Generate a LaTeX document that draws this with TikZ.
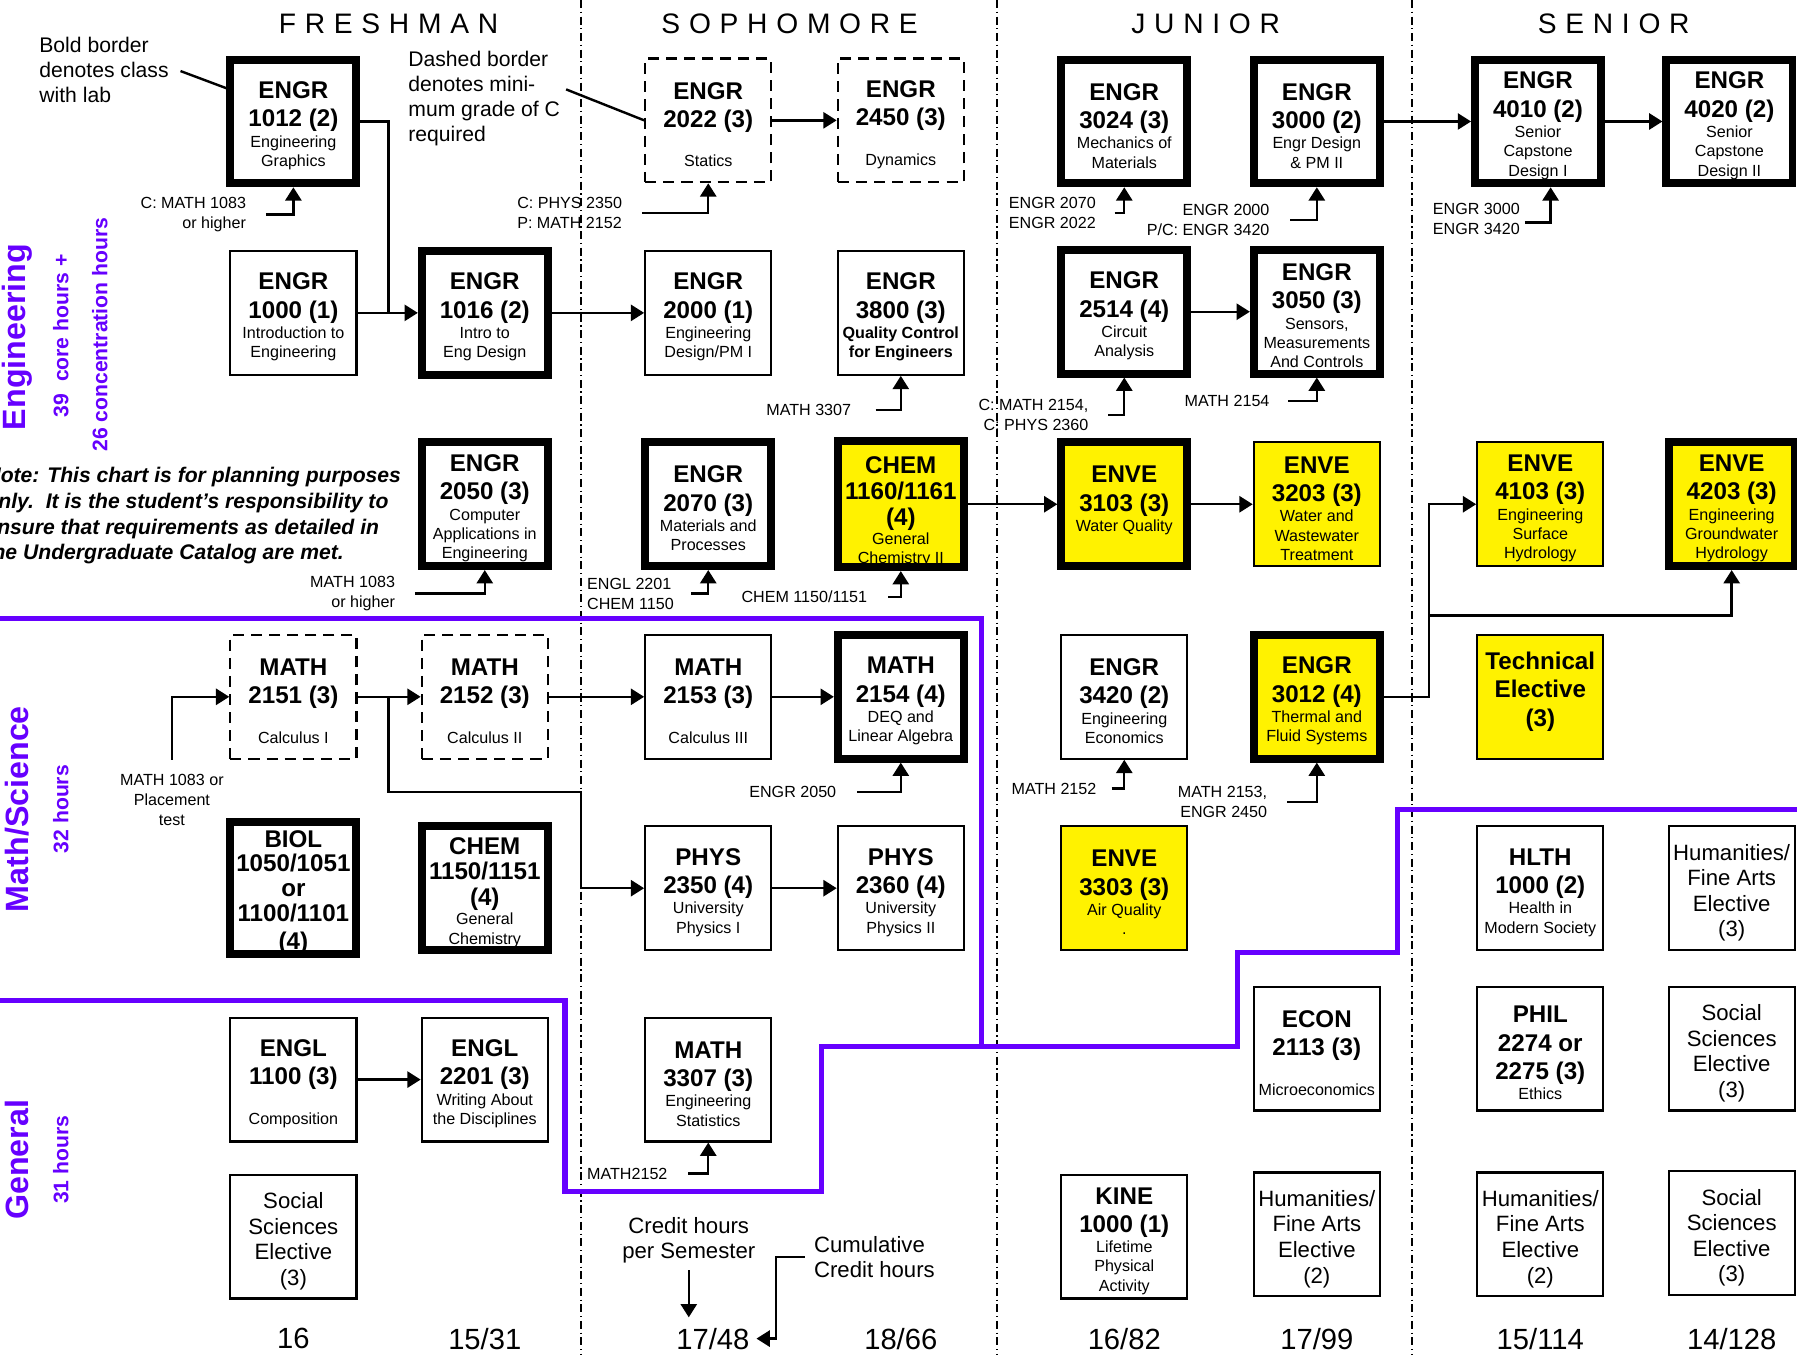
\documentclass[tikz,border=0pt]{standalone}
\usepackage{fontspec}
\setmainfont{Liberation Sans}
\usepackage{tikz}
\usetikzlibrary{arrows.meta,calc}
\definecolor{grp}{RGB}{102,0,255}
\hyphenpenalty=10000
\exhyphenpenalty=10000
\newcommand\crsfont{\fontsize{12}{14}\selectfont\bfseries}
\newcommand\subf{\fontsize{8}{9.6}\selectfont\mdseries}
\newcommand\crs[3]{#1\\#2\par\vspace{0.5pt}{\subf #3\par}}
\newcommand\crsc[2]{{\fontsize{12}{12.8}\selectfont #1\par}{\subf #2\par}}

\begin{document}
\begin{tikzpicture}[x=0.02cm, y=-0.02cm,
  >={Triangle[length=6.6pt,width=8pt]},
  crs/.style={rectangle, draw=black, line width=1.1pt, minimum width=2.2cm, minimum height=2.16cm, text width=2.2cm, inner sep=0pt, align=flush center, font=\crsfont, execute at begin node={\rule{0pt}{12.6pt}}},
  lab/.style={crs, line width=3.9pt},
  gradec/.style={crs, dash pattern=on 5.5pt off 3.5pt},
  elect/.style={crs, font=\fontsize{11}{12.7}\selectfont, execute at begin node={\rule{0pt}{11.4pt}}},
  pre/.style={inner sep=0pt, font=\fontsize{8}{10}\selectfont},
  link/.style={line width=1.2pt},
  divide/.style={line width=0.6pt, dash pattern=on 4pt off 1.8pt on 0.6pt off 1.8pt},
  bound/.style={draw=grp, line width=2.5pt},
  year/.style={font=\fontsize{14}{16}\selectfont\addfontfeature{LetterSpace=31}},
  group/.style={rotate=90, text=grp, font=\fontsize{16}{19}\selectfont\bfseries},
  hours/.style={rotate=90, text=grp, font=\fontsize{10.5}{12}\selectfont\bfseries},
  total/.style={font=\fontsize{14.5}{17}\selectfont},
  legend/.style={align=left, inner sep=0pt, font=\fontsize{10.5}{12.5}\selectfont}]
		\useasboundingbox (0,0) rectangle (1568,1181.5);
		\clip (0,0) rectangle (1568,1181.5);
		\draw[divide] (507,0) -- (507,1182);
		\draw[divide] (870,0) -- (870,1182);
		\draw[divide] (1232,0) -- (1232,1182);

		\node[lab] (1) at (256,106) {\crs{ENGR}{1012 (2)}{Engineering\\Graphics}};
		\node[gradec] (2) at (618,105) {\crs{ENGR}{2022 (3)}{\mbox{}\\Statics}};
		\node[gradec] (3) at (786,105) {\crs{ENGR}{2450 (3)}{\mbox{}\\Dynamics}};
		\node[lab] (4) at (981,106) {\crs{ENGR}{3024 (3)}{Mechanics of\\Materials}};
		\node[lab] (5) at (1149,106) {\crs{ENGR}{3000 (2)}{Engr Design\\\& PM II}};
		\node[lab] (6) at (1342,106) {\crs{ENGR}{4010 (2)}{Senior\\Capstone\\Design I}};
		\node[lab] (7) at (1509,106) {\crs{ENGR}{4020 (2)}{Senior\\Capstone\\Design II}};
		\node[crs] (8) at (256,273) {\crs{ENGR}{1000 (1)}{Introduction to\\Engineering}};
		\node[lab] (9) at (423,273) {\crs{ENGR}{1016 (2)}{Intro to\\Eng Design}};
		\node[crs] (10) at (618,273) {\crs{ENGR}{2000 (1)}{Engineering\\Design/PM I}};
		\node[crs] (11) at (786,273) {\crs{ENGR}{3800 (3)}{\bfseries Quality Control\\for Engineers}};
		\node[lab] (12) at (981,272) {\crs{ENGR}{2514 (4)}{Circuit\\Analysis}};
		\node[lab] (13) at (1149,272) {\crs{ENGR}{3050 (3)}{Sensors,\\Measurements\\And Controls}};
		\node[lab] (14) at (423,440) {\crs{ENGR}{2050 (3)}{Computer\\Applications in\\Engineering}};
		\node[lab] (15) at (618,440) {\crs{ENGR}{2070 (3)}{Materials and\\Processes}};
		\node[lab, fill=yellow] (16) at (786,440) {\crsc{\rule{0pt}{16pt}CHEM\\1160/1161\\(4)}{General\\Chemistry II}};
		\node[lab, fill=yellow] (17) at (981,440) {\crs{ENVE}{3103 (3)}{Water Quality\rule[-9.7pt]{0pt}{0pt}}};
		\node[crs, fill=yellow] (18) at (1149,440) {\crs{ENVE}{3203 (3)}{Water and\\Wastewater\\Treatment}};
		\node[crs, fill=yellow] (19) at (1344,440) {\crs{ENVE}{4103 (3)}{Engineering\\Surface\\Hydrology}};
		\node[lab, fill=yellow] (20) at (1511,440) {\crs{ENVE}{4203 (3)}{Engineering\\Groundwater\\Hydrology}};
		\node[gradec] (21) at (256,608) {\crs{MATH}{2151 (3)}{\mbox{}\\Calculus I}};
		\node[gradec] (22) at (423,608) {\crs{MATH}{2152 (3)}{\mbox{}\\Calculus II}};
		\node[crs] (23) at (618,608) {\crs{MATH}{2153 (3)}{\mbox{}\\Calculus III}};
		\node[lab] (24) at (786,608) {\crs{MATH}{2154 (4)}{DEQ and\\Linear Algebra}};
		\node[crs] (25) at (981,608) {\crs{ENGR}{3420 (2)}{Engineering\\Economics}};
		\node[lab, fill=yellow] (26) at (1149,608) {\crs{ENGR}{3012 (4)}{Thermal and\\Fluid Systems}};
		\node[crs, fill=yellow] (27) at (1344,608) {Technical\\Elective\\(3)\rule[-11.5pt]{0pt}{0pt}};
		\node[lab] (28) at (256,775) {\fontsize{12}{12.2}\selectfont BIOL\\1050/1051\\or\\1100/1101\\(4)};
		\node[lab] (29) at (423,775) {\crsc{CHEM\\1150/1151\\(4)}{General\\Chemistry}};
		\node[crs] (30) at (618,775) {\crs{PHYS}{2350 (4)}{University\\Physics I}};
		\node[crs] (31) at (786,775) {\crs{PHYS}{2360 (4)}{University\\Physics II}};
		\node[crs, fill=yellow] (32) at (981,775) {\crs{ENVE}{3303 (3)}{Air Quality\\.}};
		\node[crs] (33) at (1344,775) {\crs{HLTH}{1000 (2)}{Health in\\Modern Society}};
		\node[elect] (34) at (1511,775) {Humanities/\\Fine Arts\\Elective\\(3)};
		\node[crs] (35) at (256,942) {\crs{ENGL}{1100 (3)}{\mbox{}\\Composition}};
		\node[crs] (36) at (423,942) {\crs{ENGL}{2201 (3)}{Writing About\\the Disciplines}};
		\node[crs] (37) at (618,942) {\crs{MATH}{3307 (3)}{Engineering\\Statistics}};
		\node[crs] (38) at (1149,915) {\crs{ECON}{2113 (3)}{\mbox{}\\Microeconomics}};
		\node[crs] (39) at (1344,915) {\crs{PHIL\\2274 or}{2275 (3)}{Ethics}};
		\node[elect] (40) at (1511,915) {Social\\Sciences\\Elective\\(3)};
		\node[elect] (41) at (256,1079) {Social\\Sciences\\Elective\\(3)};
		\node[crs] (42) at (981,1079) {\crs{KINE}{1000 (1)}{Lifetime\\Physical\\Activity}};
		\node[elect] (43) at (1149,1077) {Humanities/\\Fine Arts\\Elective\\(2)};
		\node[elect] (44) at (1344,1077) {Humanities/\\Fine Arts\\Elective\\(2)};
		\node[elect] (45) at (1511,1076) {Social\\Sciences\\Elective\\(3)};

		\node[pre, anchor=east, align=right] (50) at (215,187) {C: MATH 1083\\or higher};
		\node[pre, anchor=west, align=left] (51) at (451,186) {C: PHYS 2350\\P: MATH 2152};
		\node[pre, anchor=west, align=left] (52) at (880,186) {ENGR 2070\\ENGR 2022};
		\node[pre, anchor=east, align=right] (53) at (1108,192) {ENGR 2000\\P/C: ENGR 3420};
		\node[pre, anchor=west, align=left] (54) at (1250,191) {ENGR 3000\\ENGR 3420};
		\node[pre, anchor=east] (55) at (743,358) {MATH 3307};
		\node[pre, anchor=east, align=right] (56) at (950,362) {C: MATH 2154,\\C: PHYS 2360};
		\node[pre, anchor=east] (57) at (1108,350) {MATH 2154};
		\node[pre, anchor=east, align=right] (58) at (345,518) {MATH 1083\\or higher};
		\node[pre, anchor=west, align=left] (59) at (512,518) {ENGL 2201\\CHEM 1150};
		\node[pre, anchor=east] (60) at (757,521) {CHEM 1150/1151};
		\node[pre, align=center] (61) at (150,698) {MATH 1083 or\\Placement\\test};
		\node[pre, anchor=east] (62) at (730,691) {ENGR 2050};
		\node[pre, anchor=east] (63) at (957,688) {MATH 2152};
		\node[pre, anchor=east, align=right] (64) at (1106,700) {MATH 2153,\\ENGR 2450};
		\node[pre, anchor=west] (65) at (512,1024) {MATH2152};

		\node[legend, anchor=west] (70) at (34,61) {Bold border\\denotes class\\with lab};
		\node[legend, anchor=west] (71) at (356,86) {Dashed border\\denotes mini-\\mum grade of C\\required};
		\node[legend, anchor=west, font=\fontsize{10.5}{12.8}\selectfont\bfseries\itshape] (72) at (-13,450) {Note: This chart is for planning purposes\\only.\ \ It is the student’s responsibility to\\ensure that requirements as detailed in\\the Undergraduate Catalog are met.};
		\node[year] (73) at (339,21) {FRESHMAN};
		\node[year] (74) at (689,21) {SOPHOMORE};
		\node[year] (75) at (1052,21) {JUNIOR};
		\node[year] (76) at (1408,21) {SENIOR};
		\node[group] (77) at (15,294) {Engineering};
		\node[hours] (78) at (53,293) {39\ \ core hours +};
		\node[hours] (79) at (87,292) {26 concentration hours};
		\node[group] (80) at (15,706) {Math/Science};
		\node[hours] (81) at (53,706) {32 hours};
		\node[group] (82) at (15,1012) {General};
		\node[hours] (83) at (53,1012) {31 hours};
		\node[total] (84) at (256,1168) {16};
		\node[total] (85) at (423,1168) {15/31};
		\node[total] (86) at (622,1168) {17/48};
		\node[total] (87) at (786,1168) {18/66};
		\node[total] (88) at (981,1168) {16/82};
		\node[total] (89) at (1149,1168) {17/99};
		\node[total] (90) at (1344,1168) {15/114};
		\node[total] (91) at (1511,1168) {14/128};
		\node[legend, align=center, font=\fontsize{11}{12.5}\selectfont] (92) at (601,1082) {Credit hours\\per Semester};
		\node[legend, anchor=west, font=\fontsize{11}{12.5}\selectfont] (93) at (710,1097) {Cumulative\\Credit hours};
		\coordinate (j1) at (339,273);
		\coordinate (j2) at (339,691);
		\coordinate (j3) at (507,691);
		\coordinate (j4) at (1247,537);

		\draw[bound] (-5,540) -- (856,540) -- (856,913);
		\draw[bound] (-5,873) -- (493,873) -- (493,1040) -- (717,1040) -- (717,913) -- (1080,913) -- (1080,831) -- (1219,831) -- (1219,706) -- (1575,706);

		\path (2) edge[link,->] (3);
		\path (8) edge[link,->] (9);
		\path (9) edge[link,->] (10);
		\path (5) edge[link,->] (6);
		\path (6) edge[link,->] (7);
		\path (12) edge[link,->] (13);
		\path (16) edge[link,->] (17);
		\path (17) edge[link,->] (18);
		\path (21) edge[link,->] (22);
		\path (22) edge[link,->] (23);
		\path (23) edge[link,->] (24);
		\path (30) edge[link,->] (31);
		\path (35) edge[link,->] (36);
		\draw[link] (1) -| (j1);
		\draw[link,->] (21) -| (j2) -- (j3) |- (30);
		\draw[link,->] (26) -| (j4) |- (19);
		\draw[link,->] (j4) -| (20);

		\draw[link,->] ($(50.east)+(17,0)$) -| (1);
		\draw[link,->] ($(51.east)+(17,0)$) -| (2);
		\draw[link,->] ($(52.east)+(16,0)$) -| (4);
		\draw[link,->] ($(53.east)+(18,0)$) -| (5);
		\draw[link,->] ($(54.east)+(4,3)$) -| ($(6.south)+(11,0)$);
		\draw[link,->] ($(55.east)+(21,0)$) -| (11);
		\draw[link,->] ($(56.east)+(17,0)$) -| (12);
		\draw[link,->] ($(57.east)+(16,0)$) -| (13);
		\draw[link,->] ($(58.east)+(17,0)$) -| (14);
		\draw[link,->] ($(59.east)+(15,0)$) -| (15);
		\draw[link,->] ($(60.east)+(18,0)$) -| (16);
		\draw[link,->] ($(61.north)+(0,-12)$) |- (21);
		\draw[link,->] ($(62.east)+(18,0)$) -| (24);
		\draw[link,->] ($(63.east)+(13,0)$) -| (25);
		\draw[link,->] ($(64.east)+(17,0)$) -| (26);
		\draw[link,->] ($(65.east)+(18,0)$) -| (37);
		\draw[link] ($(70.east)+(10,1)$) -- ($(1.west)+(0,-29)$);
		\draw[link] ($(71.east)+(5,-8)$) -- (2.west);
		\draw[link,->] ($(92.south)+(0,6)$) -- ($(92.south |- 86.north)+(0,-3)$);
		\draw[link,->] ($(93.west)+(-8,0)$) -| ($(86.east)+(17,0)$) -- (86.east);
	\end{tikzpicture}
\end{document}
